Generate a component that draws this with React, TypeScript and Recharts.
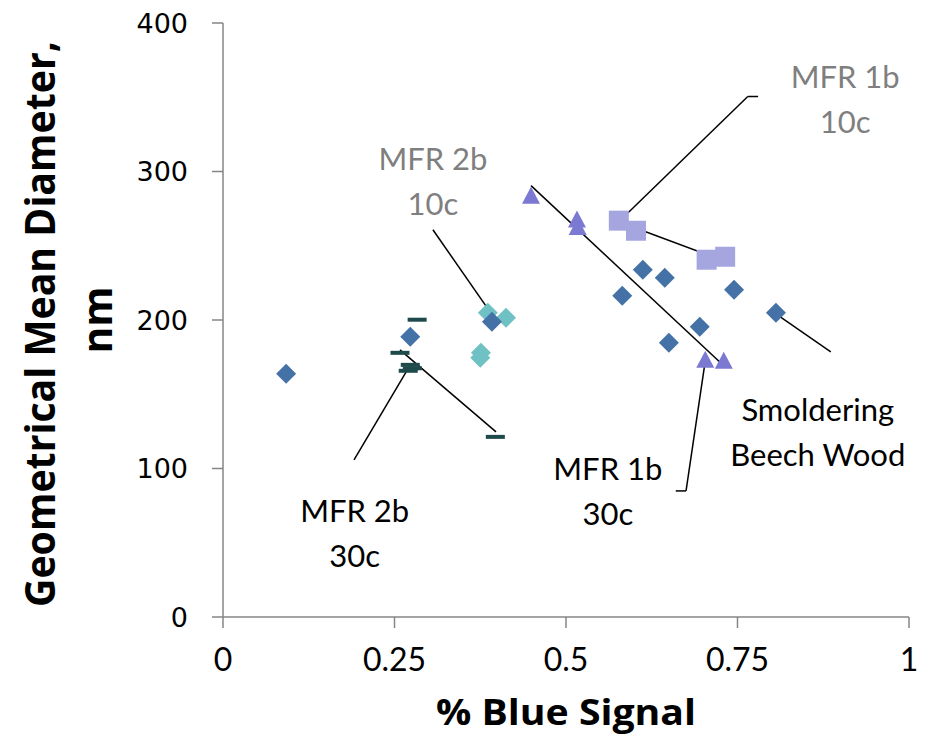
import React from "react";
import {
  ReferenceLine,
  Scatter,
  ScatterChart,
  XAxis,
  YAxis,
} from "recharts";

// smoldering beech wood (dark blue diamonds)
const beechX = [0.092, 0.273, 0.392, 0.582, 0.612, 0.644, 0.65, 0.695, 0.745, 0.806];
const beechY = [163.8, 188.7, 198.8, 216.3, 233.9, 228.5, 184.7, 195.4, 220.4, 204.9];

// MFR 2b 10c (teal diamonds)
const mfr2b10X = [0.386, 0.4125, 0.376, 0.375];
const mfr2b10Y = [204.9, 201.5, 177.9, 174.6];

// MFR 2b 30c (dark dashes)
const mfr2b30X = [0.283, 0.258, 0.273, 0.27, 0.276, 0.397];
const mfr2b30Y = [200.2, 177.9, 169.8, 165.8, 167.5, 121.3];

// MFR 1b 30c (triangles)
const mfr1b30X = [0.449, 0.516, 0.517, 0.703, 0.73];
const mfr1b30Y = [283, 267, 262, 172.5, 171.9];

// MFR 1b 10c (squares)
const mfr1b10X = [0.577, 0.602, 0.705, 0.732];
const mfr1b10Y = [266.9, 260.1, 240.6, 242.6];

const xTicks = [0, 0.25, 0.5, 0.75, 1];
const yTicks = [0, 100, 200, 300, 400];

// leader lines, in data units
const leaderLines = [
  [[0.78, 350.5], [0.765, 350.5], [0.577, 266.2], [0.733, 239.3]],
  [[0.306, 260.8], [0.389, 205.6]],
  [[0.449, 290.5], [0.73, 169.2]],
  [[0.66, 84.9], [0.675, 84.9], [0.703, 172.5]],
  [[0.806, 204.2], [0.886, 178.6]],
  [[0.191, 105.8], [0.267, 165.1]],
  [[0.258, 179.9], [0.398, 124.7]],
];

// callout texts: centre of the two lines
const grayNotes = [
  { x: 0.306, y: 293, line1: "MFR 2b", line2: "10c" },
  { x: 0.907, y: 348, line1: "MFR 1b", line2: "10c" },
];
const blackNotes = [
  { x: 0.867, y: 123.6, line1: "Smoldering", line2: "Beech Wood" },
  { x: 0.561, y: 83.9, line1: "MFR 1b", line2: "30c" },
  { x: 0.192, y: 56.2, line1: "MFR 2b", line2: "30c" },
];

const zip = (xs: number[], ys: number[]) => xs.map((x, i) => ({ x, y: ys[i] }));

const LABEL_FONT = "Lato, 'Open Sans', sans-serif";
const TITLE_FONT = "'Open Sans', Lato, sans-serif";
const AXIS_GRAY = "#868686";

const diamond = (color: string, r: number) => (p: any) => (
  <polygon
    points={`${p.cx},${p.cy - r} ${p.cx + r},${p.cy} ${p.cx},${p.cy + r} ${p.cx - r},${p.cy}`}
    fill={color}
  />
);

const triangle = (color: string) => (p: any) => (
  <polygon
    points={`${p.cx},${p.cy - 10} ${p.cx + 9},${p.cy + 7} ${p.cx - 9},${p.cy + 7}`}
    fill={color}
  />
);

const square = (color: string) => (p: any) => (
  <rect x={p.cx - 10} y={p.cy - 10} width={20} height={20} fill={color} />
);

const dash = (color: string) => (p: any) => (
  <rect x={p.cx - 9.5} y={p.cy - 2} width={19} height={4} fill={color} />
);

const note = (color: string) => (p: any) => (
  <text
    x={p.cx}
    textAnchor="middle"
    fontFamily={LABEL_FONT}
    fontSize={31}
    fill={color}
  >
    <tspan x={p.cx} y={p.cy - 12}>{p.payload.line1}</tspan>
    <tspan x={p.cx} y={p.cy + 33}>{p.payload.line2}</tspan>
  </text>
);

export default function App() {
  return (
    <div style={{ position: "absolute", left: 0, top: 0 }}>
      <ScatterChart
        width={935}
        height={737}
        margin={{ top: 23, right: 26, bottom: 60, left: 163 }}
      >
        <XAxis
          type="number"
          dataKey="x"
          domain={[0, 1]}
          ticks={xTicks}
          height={60}
          tickSize={11}
          tickMargin={20}
          stroke={AXIS_GRAY}
          strokeWidth={1.5}
          tick={{ fill: "#000", fontSize: 32, fontFamily: LABEL_FONT }}
          label={{
            content: (props: any) => {
              const vb = props.viewBox;
              return (
                <text
                  x={vb.x + vb.width / 2}
                  y={vb.y + 108}
                  textAnchor="middle"
                  fontFamily={TITLE_FONT}
                  fontWeight="bold"
                  fontSize={35}
                  textLength={260}
                  lengthAdjust="spacingAndGlyphs"
                  fill="#000"
                >
                  % Blue Signal
                </text>
              );
            },
          }}
        />
        <YAxis
          type="number"
          dataKey="y"
          domain={[0, 400]}
          ticks={yTicks}
          width={60}
          tickSize={11}
          tickMargin={24}
          stroke={AXIS_GRAY}
          strokeWidth={1.5}
          tick={{ fill: "#000", fontSize: 27, fontFamily: "'DejaVu Sans', sans-serif" }}
          label={{
            content: (props: any) => {
              const vb = props.viewBox;
              return (
                <g>
                  <text
                    transform={`translate(55,324) rotate(-90)`}
                    textAnchor="middle"
                    fontFamily={TITLE_FONT}
                    fontWeight="bold"
                    fontSize={41}
                    textLength={566}
                    lengthAdjust="spacingAndGlyphs"
                    fill="#000"
                  >
                    Geometrical Mean Diameter,
                  </text>
                  <text
                    transform={`translate(112,${vb.y + vb.height / 2}) rotate(-90)`}
                    textAnchor="middle"
                    fontFamily={TITLE_FONT}
                    fontWeight="bold"
                    fontSize={41}
                    fill="#000"
                  >
                    nm
                  </text>
                </g>
              );
            },
          }}
        />

        {leaderLines.map((pts, i) =>
          pts.slice(1).map((pt, j) => (
            <ReferenceLine
              key={`l${i}-${j}`}
              segment={[
                { x: pts[j][0], y: pts[j][1] },
                { x: pt[0], y: pt[1] },
              ]}
              stroke="#000"
              strokeWidth={1.5}
              ifOverflow="visible"
            />
          ))
        )}

        <Scatter data={zip(mfr1b10X, mfr1b10Y)} shape={square("#A5A5E0")} isAnimationActive={false} />
        <Scatter data={zip(mfr1b30X, mfr1b30Y)} shape={triangle("#7B79D2")} isAnimationActive={false} />
        <Scatter data={zip(mfr2b10X, mfr2b10Y)} shape={diamond("#70C1C4", 10)} isAnimationActive={false} />
        <Scatter data={zip(beechX, beechY)} shape={diamond("#4472A7", 10)} isAnimationActive={false} />
        <Scatter data={zip(mfr2b30X, mfr2b30Y)} shape={dash("#1F4A4C")} isAnimationActive={false} />

        <Scatter data={grayNotes} shape={note("#7F7F7F")} isAnimationActive={false} />
        <Scatter data={blackNotes} shape={note("#000")} isAnimationActive={false} />
      </ScatterChart>
    </div>
  );
}
